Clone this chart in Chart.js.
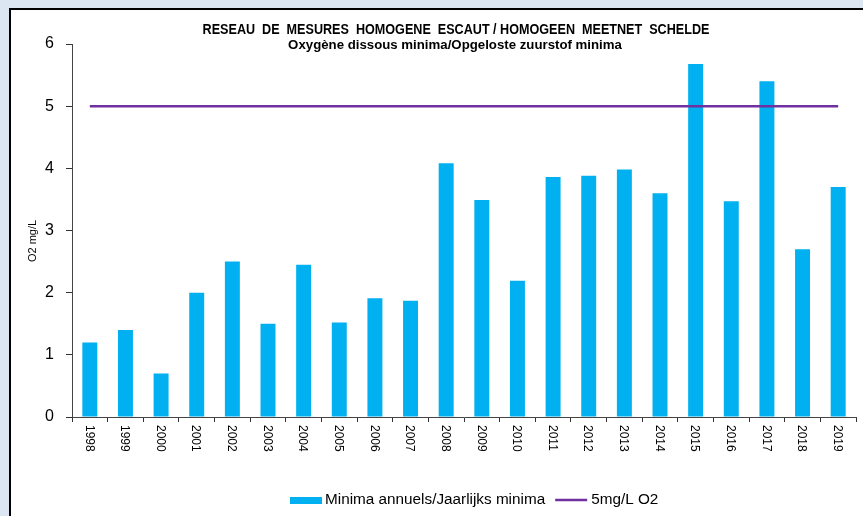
<!DOCTYPE html>
<html>
<head>
<meta charset="utf-8">
<script src="https://cdn.jsdelivr.net/npm/chart.js@4"></script>
<style>
    html, body { margin: 0; padding: 0; background: #dce6f2; }
    #wrap { width: 863px; height: 516px; position: relative; }
</style>
</head>
<body>
<div id="wrap"><canvas id="chart" width="863" height="516"></canvas></div>
<script>
// --- Data ---
const years = ['1998', '1999', '2000', '2001', '2002', '2003', '2004', '2005', '2006', '2007', '2008',
    '2009', '2010', '2011', '2012', '2013', '2014', '2015', '2016', '2017', '2018', '2019'];
const minima = [1.2, 1.4, 0.7, 2.0, 2.5, 1.5, 2.45, 1.52, 1.91, 1.87, 4.08,
    3.49, 2.19, 3.86, 3.88, 3.98, 3.6, 5.68, 3.47, 5.4, 2.7, 3.7];
const norm = years.map(() => 5);
const yTicks = [0, 1, 2, 3, 4, 5, 6];

const titleLines = [
    'RESEAU  DE  MESURES  HOMOGENE  ESCAUT / HOMOGEEN  MEETNET  SCHELDE',
    'Oxygène dissous minima/Opgeloste zuurstof minima'
];
const yTitle = 'O2 mg/L';
const legendLabels = ['Minima annuels/Jaarlijks minima', '5mg/L O2'];

const BAR_COLOR = '#00b0f0';
const LINE_COLOR = '#7030a0';
const FONT = '"Liberation Sans", Arial, sans-serif';

// draw text squeezed horizontally (the original uses a narrow font)
function narrowText(ctx, text, cx, cy, sx) {
    ctx.save();
    ctx.translate(cx, cy);
    ctx.scale(sx, 1);
    ctx.fillText(text, 0, 0);
    ctx.restore();
}

// --- Background panel, title, rotated labels, legend ---
const decor = {
    id: 'decor',
    beforeDraw(chart) {
        const ctx = chart.ctx;
        ctx.save();
        ctx.fillStyle = '#dce6f2';
        ctx.fillRect(0, 0, chart.width, chart.height);
        ctx.fillStyle = '#ffffff';
        ctx.fillRect(10, 9, chart.width - 10, chart.height - 9);
        ctx.strokeStyle = '#000000';
        ctx.lineWidth = 2;
        ctx.beginPath();
        ctx.moveTo(10, chart.height);
        ctx.lineTo(10, 9);
        ctx.lineTo(chart.width, 9);
        ctx.stroke();
        ctx.restore();
    },
    afterDraw(chart) {
        const ctx = chart.ctx;
        const x = chart.scales.x;
        ctx.save();
        // title
        ctx.fillStyle = '#000';
        ctx.textAlign = 'center';
        ctx.textBaseline = 'middle';
        ctx.font = 'bold 14px ' + FONT;
        narrowText(ctx, titleLines[0], 456, 30, 0.9);
        ctx.font = 'bold 13.5px ' + FONT;
        narrowText(ctx, titleLines[1], 455, 45, 0.98);

        // y axis title, reading upwards
        ctx.font = '11px ' + FONT;
        ctx.save();
        ctx.translate(33, 241);
        ctx.rotate(-Math.PI / 2);
        ctx.fillText(yTitle, 0, 0);
        ctx.restore();

        // x labels, rotated clockwise
        ctx.font = '12px ' + FONT;
        ctx.textAlign = 'left';
        years.forEach((lbl, i) => {
            const px = x.getPixelForTick(i);
            ctx.save();
            ctx.translate(px - 1, x.top + 8);
            ctx.rotate(Math.PI / 2);
            ctx.fillText(lbl, 0, 0);
            ctx.restore();
        });

        // legend
        const ly = 500;
        ctx.font = '15.3px ' + FONT;
        ctx.textBaseline = 'middle';
        ctx.fillStyle = BAR_COLOR;
        ctx.fillRect(290, ly - 3, 32, 7);
        ctx.fillStyle = '#000';
        ctx.fillText(legendLabels[0], 325, ly);
        const w0 = ctx.measureText(legendLabels[0]).width;
        const lx = 325 + w0 + 10;
        ctx.strokeStyle = LINE_COLOR;
        ctx.lineWidth = 2.5;
        ctx.beginPath();
        ctx.moveTo(lx, ly);
        ctx.lineTo(lx + 32, ly);
        ctx.stroke();
        ctx.fillText(legendLabels[1], lx + 36, ly);
        ctx.restore();
    }
};

const ctx = document.getElementById('chart').getContext('2d');
new Chart(ctx, {
    type: 'bar',
    data: {
        labels: years,
        datasets: [{
            type: 'line',
            label: legendLabels[1],
            data: norm,
            borderColor: LINE_COLOR,
            borderWidth: 2.5,
            pointRadius: 0,
            fill: false,
            order: 0
        }, {
            label: legendLabels[0],
            data: minima,
            backgroundColor: BAR_COLOR,
            barPercentage: 0.42,
            categoryPercentage: 1.0,
            order: 1
        }]
    },
    options: {
        responsive: false,
        animation: false,
        layout: { padding: { left: 0, top: 44, right: 7, bottom: 0 } },
        plugins: {
            legend: { display: false },
            title: { display: false },
            tooltip: { enabled: false }
        },
        scales: {
            x: {
                offset: true,
                grid: {
                    offset: true,
                    drawOnChartArea: false,
                    drawTicks: true,
                    tickLength: 5,
                    color: '#333'
                },
                border: { color: '#444', width: 1 },
                ticks: { display: false },
                afterFit(scale) { scale.height = 99; }
            },
            y: {
                min: 0,
                max: 6,
                afterBuildTicks(scale) { scale.ticks = yTicks.map(v => ({ value: v })); },
                grid: {
                    drawOnChartArea: false,
                    drawTicks: true,
                    tickLength: 6,
                    color: '#333'
                },
                border: { color: '#444', width: 1 },
                ticks: {
                    color: '#000',
                    padding: 12,
                    font: { family: FONT, size: 16 }
                },
                afterFit(scale) { scale.width = 72; }
            }
        }
    },
    plugins: [decor]
});
</script>
</body>
</html>
